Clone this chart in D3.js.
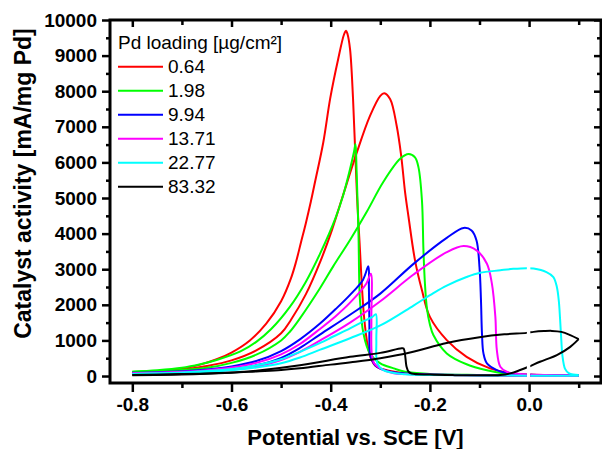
<!DOCTYPE html>
<html lang="en">
<head>
  <meta charset="UTF-8">
  <title>Catalyst activity vs potential</title>
  <script src="https://d3js.org/d3.v7.min.js"></script>
  <style>
    body { margin: 0; background: #fff; }
    svg { font-family: "Liberation Sans", Arial, sans-serif; }
    .axis path { display: none; }
    .axis line { stroke: #000; stroke-width: 2.5px; }
    .axis text { font-size: 19px; font-weight: bold; fill: #000; }
    .scan { fill: none; stroke-width: 2px; stroke-linejoin: round; }
  </style>
</head>
<body>
  <script>
    // Pd loadings [µg/cm²] and line colours
    const loadings = ["0.64", "1.98", "9.94", "13.71", "22.77", "83.32"];
    const colors = ["#ff0000", "#00ff00", "#0000ff", "#ff00ff", "#00ffff", "#000000"];

    // tick values
    const xTicks = [-0.8, -0.6, -0.4, -0.2, 0.0];
    const xMinor = [-0.7, -0.5, -0.3, -0.1, 0.1];
    const yTicks = [0, 1000, 2000, 3000, 4000, 5000, 6000, 7000, 8000, 9000, 10000];
    const yMinor = [500, 1500, 2500, 3500, 4500, 5500, 6500, 7500, 8500, 9500];

    // [potential V, activity mA/mg] - forward scan (anodic) and reverse scan
    const fwd064 = [[-0.8, 90], [-0.75, 120], [-0.7, 175], [-0.65, 280], [-0.6, 440], [-0.55, 720], [-0.5, 1200],
      [-0.48, 1580], [-0.45, 2300], [-0.42, 3250], [-0.4, 4000], [-0.378, 4950], [-0.348, 6250], [-0.321, 7300],
      [-0.3, 7870], [-0.292, 7945], [-0.28, 7775], [-0.267, 7030], [-0.258, 6200], [-0.25, 5160], [-0.243, 4460],
      [-0.23, 3250], [-0.216, 2410], [-0.2, 1660], [-0.166, 1008], [-0.126, 540], [-0.079, 215], [-0.032, 70],
      [0, 40], [0.05, 25], [0.1, 20]];
    const rev064 = [[0.1, 15], [0.05, 12], [0, 12], [-0.1, 25], [-0.2, 45], [-0.25, 80], [-0.28, 140], [-0.3, 210],
      [-0.31, 290], [-0.318, 460], [-0.325, 820], [-0.333, 1700], [-0.342, 3800], [-0.347, 5070], [-0.355, 7800],
      [-0.361, 9180], [-0.366, 9600], [-0.369, 9700], [-0.373, 9600], [-0.385, 8900], [-0.401, 7800], [-0.415, 6560],
      [-0.431, 5490], [-0.44, 4900], [-0.45, 4300], [-0.46, 3750], [-0.47, 3200], [-0.48, 2750], [-0.5, 2100],
      [-0.53, 1470], [-0.563, 1000], [-0.6, 660], [-0.63, 470], [-0.663, 320], [-0.7, 210], [-0.75, 140],
      [-0.8, 100]];

    const fwd198 = [[-0.8, 120], [-0.75, 140], [-0.7, 170], [-0.65, 230], [-0.6, 370], [-0.55, 600], [-0.5, 1000],
      [-0.482, 1250], [-0.462, 1620], [-0.421, 2480], [-0.395, 3080], [-0.361, 3820], [-0.327, 4620], [-0.294, 5450],
      [-0.26, 6100], [-0.243, 6235], [-0.23, 6140], [-0.223, 5860], [-0.216, 4930], [-0.213, 3530], [-0.21, 2595],
      [-0.206, 1900], [-0.2, 1450], [-0.193, 1150], [-0.166, 636], [-0.126, 330], [-0.085, 160], [-0.045, 60],
      [0, 35], [0.05, 25], [0.1, 20]];
    const rev198 = [[0.1, 15], [0, 15], [-0.1, 30], [-0.2, 60], [-0.25, 120], [-0.273, 215], [-0.3, 355],
      [-0.321, 636], [-0.334, 1196], [-0.341, 2128], [-0.344, 3995], [-0.348, 5860], [-0.35, 6516], [-0.353, 6300],
      [-0.361, 5815], [-0.375, 5070], [-0.39, 4450], [-0.421, 3450], [-0.45, 2650], [-0.482, 1950], [-0.52, 1320],
      [-0.55, 960], [-0.582, 690], [-0.63, 450], [-0.663, 330], [-0.7, 230], [-0.75, 160], [-0.8, 120]];

    const fwd994 = [[-0.8, 80], [-0.7, 105], [-0.6, 190], [-0.55, 300], [-0.5, 510], [-0.462, 790], [-0.421, 1170],
      [-0.361, 1720], [-0.3, 2315], [-0.233, 3150], [-0.166, 3880], [-0.132, 4160], [-0.116, 4090],
      [-0.106, 3808], [-0.1, 3060], [-0.097, 2128], [-0.095, 1196], [-0.092, 636], [-0.085, 355], [-0.065, 168],
      [-0.032, 56], [0, 35], [0.05, 25], [0.1, 20]];
    const rev994 = [[0.1, 12], [0, 12], [-0.1, 25], [-0.2, 45], [-0.25, 70], [-0.28, 120], [-0.307, 260],
      [-0.317, 450], [-0.321, 636], [-0.322, 1500], [-0.323, 2500], [-0.324, 3080], [-0.335, 2700], [-0.361, 2280],
      [-0.39, 1880], [-0.421, 1480], [-0.462, 1030], [-0.5, 700], [-0.55, 420], [-0.6, 270], [-0.65, 185],
      [-0.7, 135], [-0.8, 90]];

    const fwd1371 = [[-0.8, 70], [-0.7, 95], [-0.6, 175], [-0.55, 270], [-0.5, 450], [-0.462, 680], [-0.421, 1000],
      [-0.361, 1500], [-0.3, 2100], [-0.233, 2850], [-0.166, 3480], [-0.132, 3650], [-0.106, 3530],
      [-0.085, 3155], [-0.075, 2595], [-0.068, 1660], [-0.065, 728], [-0.058, 260], [-0.045, 120], [-0.018, 56],
      [0, 40], [0.05, 25], [0.1, 20]];
    const rev1371 = [[0.1, 10], [0, 10], [-0.1, 20], [-0.2, 35], [-0.25, 55], [-0.273, 75], [-0.3, 215],
      [-0.312, 350], [-0.317, 600], [-0.318, 1600], [-0.319, 2875], [-0.328, 2600], [-0.361, 2060], [-0.39, 1680],
      [-0.421, 1330], [-0.462, 900], [-0.5, 610], [-0.55, 370], [-0.6, 240], [-0.65, 165], [-0.7, 120], [-0.8, 80]];

    const fwd2277 = [[-0.8, 60], [-0.7, 85], [-0.65, 115], [-0.6, 160], [-0.55, 240], [-0.5, 360], [-0.462, 520],
      [-0.421, 740], [-0.361, 1060], [-0.3, 1420], [-0.233, 1980], [-0.193, 2330], [-0.166, 2540], [-0.126, 2780],
      [-0.099, 2900], [-0.058, 2970], [-0.032, 3010], [-0.005, 3030],
      [0.009, 3020], [0.035, 2920], [0.049, 2780], [0.056, 2500], [0.06, 2100], [0.0625, 1600], [0.065, 1000],
      [0.067, 600], [0.0726, 200], [0.08, 80], [0.089, 40], [0.1, 30]];
    const rev2277 = [[0.1, 10], [0, 10], [-0.1, 15], [-0.2, 30], [-0.25, 50], [-0.294, 168], [-0.306, 355],
      [-0.308, 1000], [-0.309, 1736], [-0.316, 1660], [-0.335, 1530], [-0.361, 1340], [-0.395, 1110],
      [-0.421, 930], [-0.462, 680], [-0.5, 470], [-0.55, 300], [-0.6, 200], [-0.65, 140], [-0.7, 100], [-0.8, 60]];

    const fwd8332 = [[-0.8, 25], [-0.7, 40], [-0.6, 90], [-0.55, 130], [-0.5, 170], [-0.462, 215], [-0.4, 320],
      [-0.35, 400], [-0.3, 500], [-0.24, 660], [-0.166, 930], [-0.1, 1090], [-0.05, 1170], [-0.005, 1212],
      [0.009, 1240], [0.03, 1262], [0.046, 1268], [0.065, 1240], [0.083, 1150], [0.1, 1036]];
    const rev8332 = [[0.1, 1036], [0.083, 820], [0.056, 588], [0.022, 400], [-0.001, 260], [-0.018, 168],
      [-0.038, 75], [-0.058, 30], [-0.1, 20], [-0.15, 25], [-0.2, 40], [-0.237, 70], [-0.243, 120], [-0.247, 260],
      [-0.253, 775], [-0.257, 780], [-0.3, 650], [-0.361, 540], [-0.462, 300], [-0.55, 150], [-0.6, 100],
      [-0.7, 55], [-0.8, 30]];

    const scans = [
      [fwd064, rev064], [fwd198, rev198], [fwd994, rev994],
      [fwd1371, rev1371], [fwd2277, rev2277], [fwd8332, rev8332]
    ];

    const width = 602, height = 449;
    const svg = d3.select("body").append("svg")
      .attr("width", width)
      .attr("height", height);

    const x = d3.scaleLinear().domain([-0.845, 0.145]).range([110, 601]);
    const y = d3.scaleLinear().domain([-196, 10000]).range([383, 20]);

    // the plotted data have a small break at 0 V
    const clip = svg.append("clipPath").attr("id", "gap");
    clip.append("rect")
      .attr("x", x.range()[0]).attr("y", 0)
      .attr("width", x(-0.0045) - x.range()[0]).attr("height", height);
    clip.append("rect")
      .attr("x", x(0.0025)).attr("y", 0)
      .attr("width", x.range()[1] - x(0.0025)).attr("height", height);

    const line = d3.line()
      .x(d => x(d[0]))
      .y(d => y(d[1]))
      .curve(d3.curveCatmullRom.alpha(0.5));

    const curves = svg.append("g").attr("clip-path", "url(#gap)");
    scans.forEach((pair, i) => {
      pair.forEach(scan => {
        curves.append("path")
          .datum(scan)
          .attr("class", "scan")
          .attr("stroke", colors[i])
          .attr("d", line);
      });
    });

    // left axis
    svg.append("g").attr("class", "axis")
      .attr("transform", "translate(110,0)")
      .call(d3.axisLeft(y).tickValues(yTicks).tickSize(8).tickPadding(5).tickFormat(d3.format("d")));
    svg.append("g").attr("class", "axis")
      .attr("transform", "translate(110,0)")
      .call(d3.axisLeft(y).tickValues(yMinor).tickSize(4).tickFormat(""));

    // right axis, ticks inward
    svg.append("g").attr("class", "axis")
      .attr("transform", "translate(601,0)")
      .call(d3.axisLeft(y).tickValues(yTicks).tickSize(7).tickFormat(""));
    svg.append("g").attr("class", "axis")
      .attr("transform", "translate(601,0)")
      .call(d3.axisLeft(y).tickValues(yMinor).tickSize(4).tickFormat(""));

    // bottom axis
    svg.append("g").attr("class", "axis")
      .attr("transform", "translate(0,383)")
      .call(d3.axisBottom(x).tickValues(xTicks).tickSize(9).tickPadding(6).tickFormat(d => d.toFixed(1)));
    svg.append("g").attr("class", "axis")
      .attr("transform", "translate(0,383)")
      .call(d3.axisBottom(x).tickValues(xMinor).tickSize(5).tickFormat(""));

    // top axis, ticks inward
    svg.append("g").attr("class", "axis")
      .attr("transform", "translate(0,20)")
      .call(d3.axisBottom(x).tickValues(xTicks).tickSize(7).tickFormat(""));
    svg.append("g").attr("class", "axis")
      .attr("transform", "translate(0,20)")
      .call(d3.axisBottom(x).tickValues(xMinor).tickSize(5).tickFormat(""));

    // frame
    svg.append("rect")
      .attr("x", 110).attr("y", 20)
      .attr("width", 601 - 110).attr("height", 383 - 20)
      .attr("fill", "none")
      .attr("stroke", "#000")
      .attr("stroke-width", 3);

    // axis titles
    svg.append("text")
      .attr("x", 355.5).attr("y", 445)
      .attr("text-anchor", "middle")
      .attr("font-size", 22).attr("font-weight", "bold")
      .text("Potential vs. SCE [V]");
    svg.append("text")
      .attr("transform", "translate(31,183.5) rotate(-90)")
      .attr("text-anchor", "middle")
      .attr("font-size", 23).attr("font-weight", "bold")
      .text("Catalyst activity [mA/mg Pd]");

    // legend
    const legend = svg.append("g").attr("transform", "translate(118,0)");
    legend.append("text")
      .attr("x", 0).attr("y", 49)
      .attr("font-size", 19)
      .text("Pd loading [µg/cm²]");
    loadings.forEach((label, i) => {
      const ly = 66.7 + i * 24;
      legend.append("line")
        .attr("x1", 0).attr("x2", 45)
        .attr("y1", ly).attr("y2", ly)
        .attr("stroke", colors[i])
        .attr("stroke-width", 2);
      legend.append("text")
        .attr("x", 50).attr("y", ly + 6.5)
        .attr("font-size", 19)
        .text(label);
    });
  </script>
</body>
</html>
